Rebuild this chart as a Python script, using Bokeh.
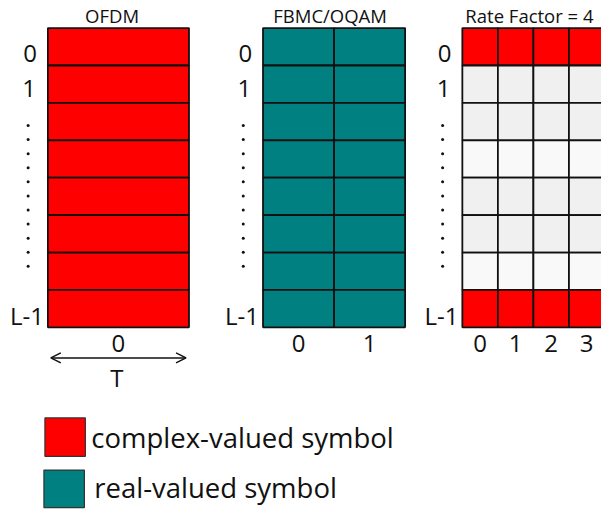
import numpy as np
from bokeh.plotting import figure
from bokeh.models import Range1d, Arrow, OpenHead, ColumnDataSource
from bokeh.core.properties import value
from bokeh.embed import file_html
from bokeh.resources import INLINE

# ---------------- data ----------------
panel_titles = ["OFDM", "FBMC/OQAM", "Rate Factor = 4"]
panel_columns = [["0"], ["0", "1"], ["0", "1", "2", "3"]]
row_labels_top = ["0", "1"]
row_label_bottom = "L-1"
n_rows = 8
# cell kind per row for each panel: C = complex, R = real, G = empty (dark), W = empty (light)
panel_rows = [
    ["C", "C", "C", "C", "C", "C", "C", "C"],
    ["R", "R", "R", "R", "R", "R", "R", "R"],
    ["C", "G", "G", "W", "G", "G", "W", "C"],
]
legend_labels = ["complex-valued symbol", "real-valued symbol"]
legend_kinds = ["C", "R"]
period_label = "T"

# ---------------- style / layout ----------------
colors = {"C": "#ff0000", "R": "#008080", "G": "#f0f0f0", "W": "#f9f9f9"}
FONT = value("Open Sans")
panel_left = [48, 266, 468]
panel_col_w = [143, 72, 36]
title_x = [113, 334, 536]
top_y = 28
row_h = 38

W, H = 601, 509
p = figure(width=W, height=H, output_backend="svg", toolbar_location=None,
           x_range=Range1d(0, 609), y_range=Range1d(517, 0),
           min_border=0)
p.axis.visible = False
p.grid.visible = False
p.outline_line_color = None
p.background_fill_color = "white"

for k, (title, cols, rows) in enumerate(zip(panel_titles, panel_columns, panel_rows)):
    x0 = panel_left[k]
    cw = panel_col_w[k]
    left, right, tops, bottoms, fills = [], [], [], [], []
    for r in range(n_rows):
        for c in range(len(cols)):
            left.append(x0 + c * cw)
            right.append(x0 + (c + 1) * cw)
            tops.append(top_y + r * row_h)
            bottoms.append(top_y + (r + 1) * row_h)
            fills.append(colors[rows[r]])
    src = ColumnDataSource(dict(left=left, right=right, top=tops, bottom=bottoms, fill=fills))
    p.quad(left="left", right="right", top="top", bottom="bottom", fill_color="fill",
           line_color="#111111", line_width=1.8, source=src)

    # title
    p.text(x=[title_x[k]], y=[15], text=[title], text_font=FONT, text_font_size="18.5px",
           text_align="center", text_baseline="middle", text_color="#111111")
    # row labels
    p.text(x=[x0 - 18, x0 - 19], y=[54, 89], text=row_labels_top, text_font=FONT,
           text_font_size="24px", text_align="center", text_baseline="middle",
           text_color="#111111")
    p.text(x=[x0 - 4], y=[320], text=[row_label_bottom], text_font=FONT,
           text_font_size="24px", text_align="right", text_baseline="middle",
           text_color="#111111")
    dots_y = np.linspace(127, 270, 11)
    p.scatter(x=[x0 - 20] * len(dots_y), y=dots_y, size=3, marker="circle",
              fill_color="#111111", line_color=None)
    # column labels
    cx = [x0 + (c + 0.5) * cw for c in range(len(cols))]
    p.text(x=cx, y=[348] * len(cols), text=cols, text_font=FONT, text_font_size="24px",
           text_align="center", text_baseline="middle", text_color="#111111")

# symbol period arrow under OFDM
p.add_layout(Arrow(start=OpenHead(size=10, line_width=1.5, line_color="#111111"),
                   end=OpenHead(size=10, line_width=1.5, line_color="#111111"),
                   x_start=51, y_start=363, x_end=188, y_end=363,
                   line_width=1.5, line_color="#111111"))
p.text(x=[118], y=[383], text=[period_label], text_font=FONT, text_font_size="24px",
       text_align="center", text_baseline="middle", text_color="#111111")

# legend
leg_sq = dict(left=[45, 44], right=[86, 85], top=[424, 477], bottom=[463, 515],
              fill=[colors[k] for k in legend_kinds])
p.quad(left="left", right="right", top="top", bottom="bottom", fill_color="fill",
       line_color="#333333", line_width=1.2, source=ColumnDataSource(leg_sq))
p.text(x=[92, 95], y=[444, 495], text=legend_labels, text_font=FONT,
       text_font_size="27.5px", text_align="left", text_baseline="alphabetic",
       text_color="#111111")

open("out.html", "w").write(file_html(p, INLINE))
